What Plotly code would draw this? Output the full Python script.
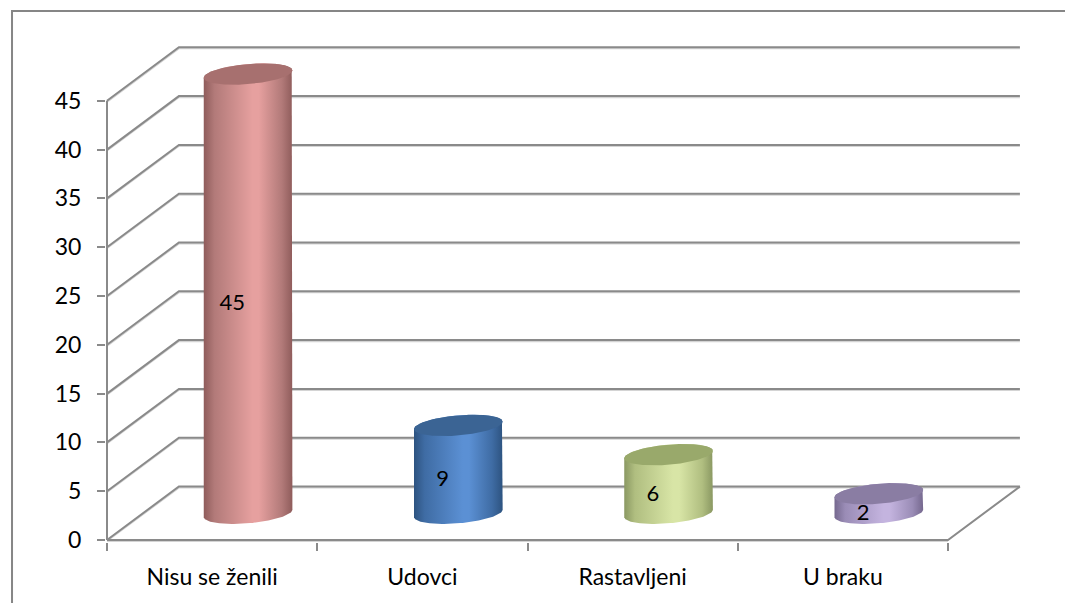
import numpy as np
import plotly.graph_objects as go

# ---------------- data ----------------
categories = ["Nisu se ženili", "Udovci", "Rastavljeni", "U braku"]
values = [45, 9, 6, 2]
y_ticks = [0, 5, 10, 15, 20, 25, 30, 35, 40, 45]

body_dark = ["#8f5c5b", "#2d5380", "#8a9862", "#75688e"]
body_mid = ["#b27a79", "#3f6ca4", "#b0be80", "#9a8cb6"]
body_light = ["#e6a09f", "#5b90d4", "#d8e5a6", "#c4b4df"]
cap_colors = ["#a7706f", "#3b6494", "#99a96b", "#8a7da3"]

# ---------------- geometry (pixel scale of the reference) ----------------
PX_X = 210.25      # pixels per category unit
PX_Y = 9.76        # pixels per value unit
DX, DY = 0.342, 5.48   # depth offset of the back wall (data units)
A_PX, B_PX = 44.5, 10.0  # cylinder ellipse semi axes (px)
TILT = np.deg2rad(5.0)

x_range = [-1.0 / PX_X, (1022 - 107) / PX_X]
y_range = [-2.0 / PX_Y, (540 - 40) / PX_Y]

GRID = "#8a8a8a"
FONT = "Lato"

fig = go.Figure()

# ---- walls / grid ----
for v in y_ticks:
    fig.add_trace(go.Scatter(
        x=[0, DX, len(categories) + DX], y=[v - 0.13, v + DY - 0.13, v + DY - 0.13],
        mode="lines", line=dict(color="#d4d4d4", width=1.5),
        hoverinfo="skip", showlegend=False))
    fig.add_trace(go.Scatter(
        x=[0, DX, len(categories) + DX], y=[v, v + DY, v + DY],
        mode="lines", line=dict(color=GRID, width=2),
        hoverinfo="skip", showlegend=False))
# floor front and right edges
fig.add_trace(go.Scatter(
    x=[0, len(categories)], y=[-0.13, -0.13],
    mode="lines", line=dict(color="#d4d4d4", width=1.5),
    hoverinfo="skip", showlegend=False))
fig.add_trace(go.Scatter(
    x=[0, len(categories), len(categories) + DX], y=[0, 0, DY],
    mode="lines", line=dict(color=GRID, width=2),
    hoverinfo="skip", showlegend=False))
# y axis line
fig.add_trace(go.Scatter(
    x=[0, 0], y=[0, y_ticks[-1]], mode="lines",
    line=dict(color=GRID, width=2), hoverinfo="skip", showlegend=False))


def ellipse(cx, cy, t):
    ex = A_PX * np.cos(t) * np.cos(TILT) - B_PX * np.sin(t) * np.sin(TILT)
    ey = A_PX * np.cos(t) * np.sin(TILT) + B_PX * np.sin(t) * np.cos(TILT)
    return cx + ex / PX_X, cy + ey / PX_Y


# ---- cylinders ----
for i, v in enumerate(values):
    cx = i + 0.5 + DX / 2
    base = DY / 2
    top = v + DY / 2
    tb = np.linspace(np.pi, 2 * np.pi, 60)
    tt = np.linspace(0, np.pi, 60)
    bx, by = ellipse(cx, base, tb)
    tx, ty = ellipse(cx, top, tt)
    xs = np.concatenate([bx, tx, bx[:1]])
    ys = np.concatenate([by, ty, by[:1]])
    fig.add_trace(go.Scatter(
        x=xs, y=ys, mode="lines", fill="toself", line=dict(width=0),
        fillgradient=dict(type="horizontal", colorscale=[
            [0.0, body_dark[i]], [0.12, body_mid[i]], [0.55, body_light[i]],
            [0.62, body_light[i]], [0.88, body_mid[i]], [1.0, body_dark[i]]]),
        hoverinfo="skip", showlegend=False))
    tc = np.linspace(0, 2 * np.pi, 120)
    cxs, cys = ellipse(cx, top, tc)
    fig.add_trace(go.Scatter(
        x=cxs, y=cys, mode="lines", fill="toself", line=dict(width=0),
        fillcolor=cap_colors[i], hoverinfo="skip", showlegend=False))

# ---- data labels ----
fig.add_trace(go.Scatter(
    x=[i + 0.5 + DX / 2 - 0.075 for i in range(len(values))],
    y=[v / 2 + 1.6 for v in values],
    text=[str(v) for v in values], mode="text",
    textfont=dict(family=FONT, size=22, color="#000000"),
    hoverinfo="skip", showlegend=False))

# ---- outer border ----
pw = 1022 - 106
ph = 542 - 40
fig.add_shape(type="path", xref="paper", yref="paper",
              path="M {:.4f},{:.4f} L {:.4f},{:.4f} L {:.4f},{:.4f}".format(
                  (12 - 106) / pw, (542 - 610) / ph,
                  (12 - 106) / pw, (542 - 11) / ph,
                  (1070 - 106) / pw, (542 - 11) / ph),
              line=dict(color="#868686", width=2))

fig.update_layout(
    width=1065, height=603, autosize=False,
    margin=dict(l=106, r=1065 - 1022, t=40, b=603 - 542),
    paper_bgcolor="white", plot_bgcolor="white",
    showlegend=False,
    xaxis=dict(range=x_range, showgrid=False, zeroline=False, showline=False,
               tickmode="array", tickvals=[i + 0.5 for i in range(len(categories))],
               ticktext=categories, ticks="",
               tickfont=dict(family=FONT, size=23, color="#000000"),
               ticklabelstandoff=19,
               minor=dict(tickmode="linear", tick0=0, dtick=1, ticks="outside",
                          ticklen=8, tickwidth=2, tickcolor=GRID, showgrid=False)),
    yaxis=dict(range=y_range, showgrid=False, zeroline=False, showline=False,
               tickmode="array", tickvals=y_ticks, ticks="outside",
               ticklen=8, tickwidth=2, tickcolor=GRID, ticklabelstandoff=11,
               tickfont=dict(family=FONT, size=23, color="#000000")),
)

fig.write_html("out.html", config={"displayModeBar": False},
               post_script="document.body.style.margin='0';document.body.style.overflow='hidden';")
